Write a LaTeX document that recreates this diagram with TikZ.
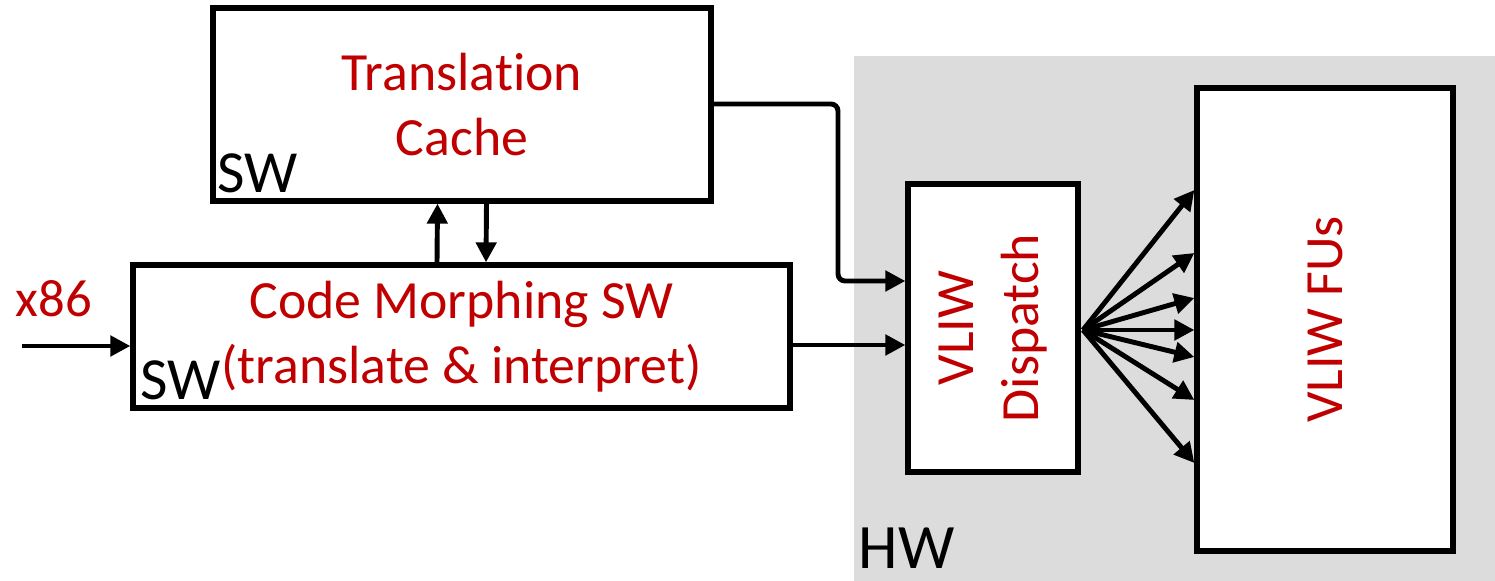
\documentclass[tikz,border=0pt]{standalone}
\usepackage{fontspec}
\setmainfont{Carlito}[Ligatures=NoCommon]
\usepackage{tikz}
\usetikzlibrary{positioning,calc,arrows.meta}
\usepackage{xcolor}
\definecolor{ppred}{HTML}{C00000}
\definecolor{hwgray}{HTML}{DCDCDC}

\begin{document}
\begin{tikzpicture}[
    blk/.style={rectangle,draw,line width=1.5pt,fill=white,align=center,text=ppred,font=\fontsize{15.3}{18.5}\selectfont},
    tag/.style={inner sep=0pt,font=\fontsize{17}{20}\selectfont},
    arr/.style={line width=1.4pt,-{Triangle[length=0.2cm,width=0.2cm]}}]

\useasboundingbox (0,0) rectangle (14.95,-5.81);
\fill[hwgray] (8.54,-0.56) rectangle (14.95,-5.81);

\node[blk,minimum width=4.98cm,minimum height=1.93cm] (tc) at (4.62,-1.045) {Translation\\Cache};
\node[blk,minimum width=6.57cm,minimum height=1.43cm] (cm) at (4.615,-3.365) {Code Morphing SW\\(translate \& interpret)};
\node[blk,minimum width=1.70cm,minimum height=2.88cm] (disp) at (9.93,-3.28) {};
\node[blk,minimum width=2.56cm,minimum height=4.63cm] (fus) at (13.25,-3.195) {};

\node[text=ppred,rotate=90,align=center,font=\fontsize{15.3}{18.5}\selectfont] (disptxt) at (disp) {VLIW\\Dispatch};
\node[text=ppred,rotate=90,font=\fontsize{15.3}{18.5}\selectfont] (fustxt) at (fus) {VLIW FUs};

\node[tag,anchor=base west] (tcsw) at (2.17,-1.93) {SW};
\node[tag,anchor=base west] (cmsw) at (1.40,-4.00) {SW};
\node[tag,anchor=base west,font=\fontsize{18}{20}\selectfont] (hw) at (8.58,-5.69) {HW};
\node[text=ppred,anchor=base west,inner sep=0pt,font=\fontsize{15}{18}\selectfont] (x86) at (0.15,-3.17) {x86};

\coordinate (in) at (0.22,-3.46);
\coordinate (fan) at (10.83,-3.30);

\draw[arr] (in) -- (in -| cm.west);
\draw[arr] ($(cm.north)+(-0.245,0)$) -- ($(tc.south)+(-0.245,0)$);
\draw[arr] ($(tc.south)+(0.245,0)$) -- ($(cm.north)+(0.245,0)$);
\draw[arr,rounded corners=2pt] (tc.east |- 0,-1.04) -- (8.38,-1.04) |- (disp.west |- 0,-2.81);
\draw[arr] (cm.east |- 0,-3.45) -- (disp.west |- 0,-3.45);

\foreach \y in {1.90,2.53,2.98,3.30,3.57,4.00,4.63}
  \draw[arr] (fan) -- (fus.west |- 0,-\y);

\end{tikzpicture}
\end{document}
